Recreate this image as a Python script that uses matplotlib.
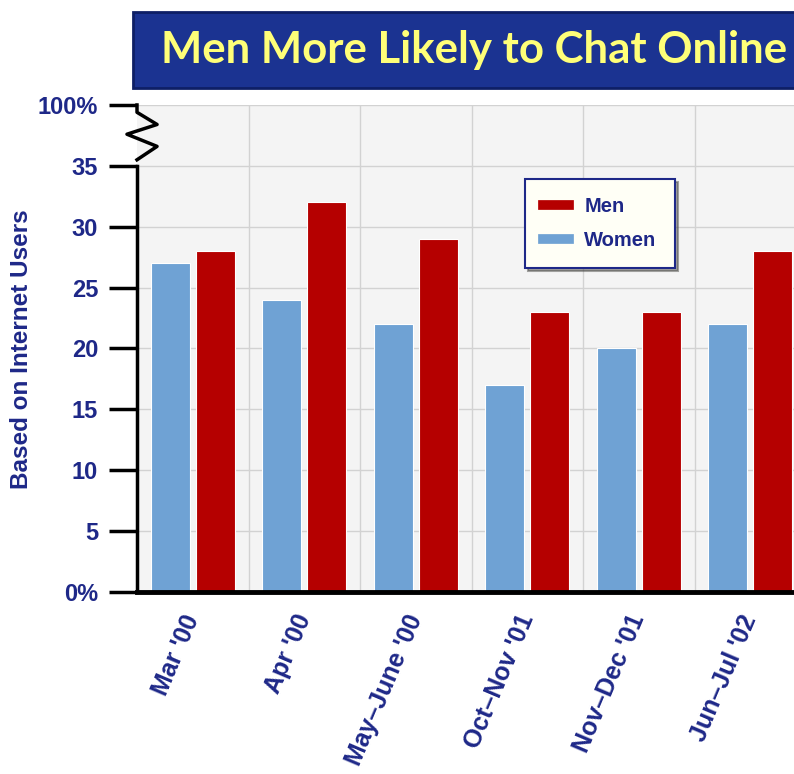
import matplotlib.pyplot as plt
from matplotlib.lines import Line2D
from matplotlib.patches import Rectangle
import numpy as np

# ── Data ─────────────────────────────────────────────────────────────────────
PERIODS = ["Mar '00", "Apr '00", "May\u2013June '00", "Oct\u2013Nov '01",
           "Nov\u2013Dec '01", "Jun\u2013Jul '02"]
WOMEN = [27, 24, 22, 17, 20, 22]
MEN   = [28, 32, 29, 23, 23, 28]
YTICKS       = [0, 5, 10, 15, 20, 25, 30, 35, 40]
YTICK_LABELS = ['0%', '5', '10', '15', '20', '25', '30', '35', '100%']

NAVY   = '#1e2888'
RED    = '#b50000'
BLUE   = '#6fa2d4'
FONT   = 'Liberation Sans'

fig = plt.figure(figsize=(7.94, 7.74), dpi=100)
ax = fig.add_axes([137/794, 1 - 592/774, 669/794, 487/774])
ax.set_facecolor('#f4f4f4')

x = np.arange(len(PERIODS))
ax.bar(x - 0.2, WOMEN, width=0.35, color=BLUE, edgecolor='white', linewidth=0.8, zorder=3)
ax.bar(x + 0.2, MEN, width=0.35, color=RED, edgecolor='white', linewidth=0.8, zorder=3)

ax.set_xlim(-0.5, len(PERIODS) - 0.5)
ax.set_ylim(0, 40)

# grid: horizontal at ticks, vertical between groups
for y in YTICKS[1:]:
    ax.axhline(y, color='#d2d2d2', linewidth=1, zorder=1)
for b in x[:-1] + 0.5:
    ax.axvline(b, color='#d2d2d2', linewidth=1, zorder=1)

# axes / spines
for s in ['top', 'right']:
    ax.spines[s].set_visible(False)
ax.spines['left'].set_bounds(0, 35)
ax.spines['left'].set_linewidth(2.5)
ax.spines['bottom'].set_linewidth(3.5)
ax.spines['left'].set_zorder(5)
ax.spines['bottom'].set_zorder(5)

# axis break zigzag between 35 and 100%
tr = ax.get_yaxis_transform()
zx = [0.0, 0.0, 0.030, -0.015, 0.030, 0.0]
zy = [40.0, 39.4, 38.4, 37.6, 36.6, 35.5]
ax.plot(zx, zy, color='black', linewidth=2.5, transform=tr, clip_on=False, zorder=6)

ax.set_yticks(YTICKS)
ax.set_yticklabels(YTICK_LABELS)
ax.tick_params(axis='y', length=20, width=2.5, color='black', pad=8)
ax.tick_params(axis='x', length=0, pad=17)
ax.set_xticks(x)
ax.set_xticklabels(PERIODS, rotation=67, ha='right', va='center',
                   rotation_mode='anchor')
for lab in ax.get_yticklabels():
    lab.set_fontsize(17)
for lab in ax.get_xticklabels():
    lab.set_fontsize(18)
for lab in ax.get_yticklabels() + ax.get_xticklabels():
    lab.set_fontfamily(FONT)
    lab.set_fontweight('bold')
    lab.set_color(NAVY)

fig.text(22/794, 1 - 349/774, 'Based on Internet Users', rotation=90,
         ha='center', va='center', fontsize=17.5, fontweight='bold',
         color=NAVY, family=FONT)

# legend
handles = [Line2D([], [], color=RED, linewidth=7),
           Line2D([], [], color=BLUE, linewidth=7)]
leg = ax.legend(handles, ['Men', 'Women'], loc='upper left',
                bbox_to_anchor=(0.58, 0.848), frameon=True, fancybox=False,
                shadow=True, handlelength=1.3, borderpad=0.9, labelspacing=0.75,
                handletextpad=0.75, borderaxespad=0,
                prop={'family': FONT, 'weight': 'bold', 'size': 14.5})
leg.get_frame().set_edgecolor(NAVY)
leg.get_frame().set_linewidth(1.5)
leg.get_frame().set_facecolor('#fffff6')
for t in leg.get_texts():
    t.set_color(NAVY)

# title banner
fig.patches.append(Rectangle((133/794, 1 - 88/774), 700/794, 76/774,
                             transform=fig.transFigure, facecolor='#1b3391',
                             edgecolor='#0e1f66', linewidth=2))
fig.text(474/794, 1 - 50/774, 'Men More Likely to Chat Online',
         ha='center', va='center', fontsize=31.5, color='#ffff78',
         family='Lato', fontweight='bold')

fig.savefig('out.png', dpi=100)
